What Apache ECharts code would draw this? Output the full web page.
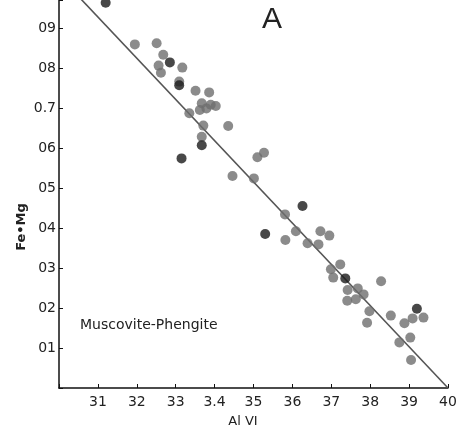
<!DOCTYPE html>
<html>
<head>
<meta charset="utf-8">
<script src="https://cdn.jsdelivr.net/npm/echarts@6/dist/echarts.min.js"></script>
<style>html,body{margin:0;padding:0;background:#fff;}#c{width:469px;height:434px;}</style>
</head>
<body>
<div id="c"></div>
<script>
// Gray points (Al VI, Fe+Mg)
var grayX = [31.95,32.51,32.68,32.56,32.62,33.17,33.09,33.51,33.35,33.86,33.67,33.90,34.03,33.62,33.79,33.71,34.35,33.67,35.27,35.10,34.46,35.01,35.81,35.82,36.09,36.72,36.95,36.39,36.67,36.99,37.23,37.05,37.42,37.68,37.41,37.63,38.28,37.83,37.98,37.92,38.53,39.37,39.09,38.88,39.03,38.75,39.05];
var grayY = [0.859,0.862,0.833,0.806,0.788,0.801,0.766,0.743,0.687,0.739,0.712,0.708,0.705,0.695,0.699,0.656,0.655,0.628,0.588,0.577,0.530,0.524,0.434,0.370,0.392,0.392,0.381,0.362,0.359,0.297,0.309,0.276,0.245,0.249,0.218,0.222,0.267,0.234,0.192,0.163,0.181,0.176,0.174,0.162,0.126,0.114,0.070];
// Dark points
var darkX = [31.20,32.85,33.09,33.15,33.67,35.30,36.26,37.36,39.20];
var darkY = [0.963,0.814,0.757,0.574,0.607,0.385,0.455,0.274,0.198];
// Trend line
var lineX = [30.5,40.0];
var lineY = [0.979,0.0];
// Tick labels as printed
var xTickValues = [31,32,33,34,35,36,37,38,39,40];
var xTickLabels = ['31','32','33','3.4','35','36','37','38','39','40'];
var yTickValues = [1,2,3,4,5,6,7,8,9];
var yTickLabels = ['01','02','03','04','05','06','0.7','08','09'];

function zip(a,b){return a.map(function(v,i){return [v,b[i]];});}

var chart = echarts.init(document.getElementById('c'));
var txt = '#222';
var fam = '"DejaVu Sans"';
chart.setOption({
  animation:false,
  backgroundColor:'#fff',
  grid:{left:59,right:21,top:0,bottom:46},
  graphic:[
    {type:'text',x:272,y:20,style:{text:'A',font:'30px "Liberation Sans"',fill:txt,textAlign:'center',textVerticalAlign:'middle'}},
    {type:'text',x:80,y:325,style:{text:'Muscovite-Phengite',font:'14px '+fam,fill:txt,textVerticalAlign:'middle'}},
    {type:'text',x:22,y:227,rotation:Math.PI/2,style:{text:'Fe\u2022Mg',font:'bold 13px '+fam,fill:txt,textAlign:'center',textVerticalAlign:'middle'}},
    {type:'text',x:243,y:422,style:{text:'Al VI',font:'13px '+fam,fill:txt,textAlign:'center',textVerticalAlign:'middle'}}
  ],
  xAxis:{
    type:'value',min:30,max:40,interval:1,
    axisLine:{lineStyle:{color:'#111',width:1.5}},
    axisTick:{inside:true,length:4,lineStyle:{color:'#111'}},
    splitLine:{show:false},
    axisLabel:{margin:7,fontFamily:'DejaVu Sans',fontSize:14,color:txt,
      formatter:function(v){var i=xTickValues.indexOf(Math.round(v));return i>=0?xTickLabels[i]:'';}}
  },
  yAxis:{
    type:'value',min:0,max:0.97,interval:0.1,
    axisLine:{lineStyle:{color:'#111',width:1.5}},
    axisTick:{inside:true,length:4,lineStyle:{color:'#111'}},
    splitLine:{show:false},
    axisLabel:{margin:3,fontFamily:'DejaVu Sans',fontSize:14,color:txt,
      formatter:function(v){var k=Math.round(v*10);if(Math.abs(v*10-k)>0.01)return '';var i=yTickValues.indexOf(k);return i>=0?yTickLabels[i]:'';}}
  },
  series:[
    {type:'line',data:zip(lineX,lineY),symbol:'none',clip:true,lineStyle:{color:'#555',width:1.6},z:1},
    {type:'scatter',data:zip(grayX,grayY),symbolSize:10,itemStyle:{color:'#6e6e6e'},z:2},
    {type:'scatter',data:zip(darkX,darkY),symbolSize:10,itemStyle:{color:'#1a1a1a'},z:3}
  ]
});
</script>
</body>
</html>
